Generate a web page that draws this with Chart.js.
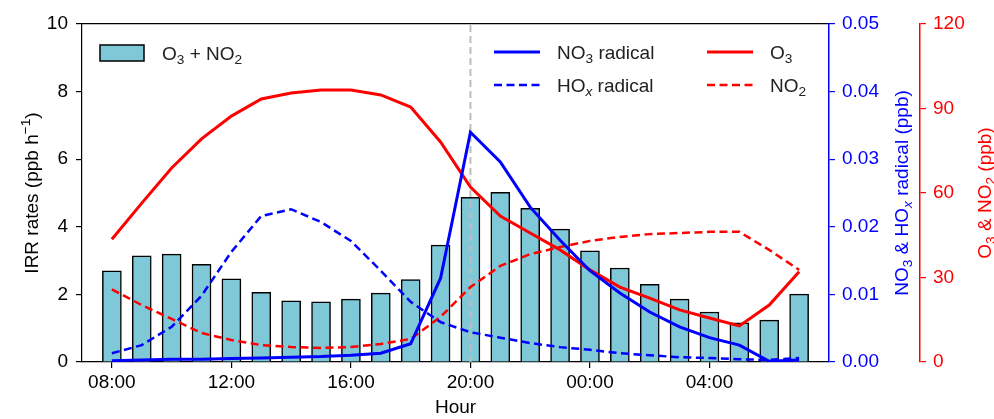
<!DOCTYPE html>
<html><head><meta charset="utf-8">
<script src="https://cdn.jsdelivr.net/npm/chart.js@4.4.0/dist/chart.umd.min.js"></script>
<style>html,body{margin:0;padding:0;background:#fff;}#wrap{width:994px;height:419px;position:relative;}</style>
</head><body><div id="wrap"><canvas id="c" width="994" height="419"></canvas></div>
<script>
// ---- data ----
const hours = ['08:00','09:00','10:00','11:00','12:00','13:00','14:00','15:00','16:00','17:00','18:00','19:00',
               '20:00','21:00','22:00','23:00','00:00','01:00','02:00','03:00','04:00','05:00','06:00','07:00'];
const tickHours = ['08:00','12:00','16:00','20:00','00:00','04:00'];
const markerHour = '20:00';
const irrRates = [2.70,3.14,3.19,2.89,2.46,2.06,1.81,1.78,1.86,2.04,2.44,3.46,
                  4.87,5.02,4.55,3.93,3.29,2.78,2.30,1.86,1.48,1.16,1.24,2.01];
const no3Radical = [0.0002,0.0003,0.0004,0.0004,0.0005,0.0006,0.0007,0.0008,0.0010,0.0013,0.0027,0.0124,
                    0.0340,0.0296,0.0229,0.0180,0.0135,0.0102,0.0074,0.0052,0.0036,0.0025,0.0001,0.0003];
const hoxRadical = [0.0013,0.0025,0.0052,0.0098,0.0163,0.0216,0.0226,0.0207,0.0179,0.0135,0.0089,0.0059,
                    0.0044,0.0036,0.0028,0.0022,0.0018,0.0013,0.0010,0.0007,0.0006,0.0004,0.0003,0.0006];
const o3 = [43.6,56.4,68.9,79.2,87.3,93.4,95.5,96.6,96.6,94.8,90.5,78.1,
            62.1,51.8,45.8,39.8,32.7,26.6,22.7,18.5,15.6,12.8,20.2,32.0];
const no2 = [25.8,20.2,15.3,10.3,7.8,6.0,5.3,5.0,5.3,6.4,8.2,16.0,
             26.6,34.1,38.3,40.8,43.0,44.4,45.4,45.8,46.2,46.2,39.8,32.7];
const labels = {bar:'O₃ + NO₂', no3:'NO₃ radical', hox:'HOₓ radical', o3:'O₃', no2:'NO₂'};
const axisTitles = {y:'IRR rates (ppb h⁻¹)', y2:'NO₃ & HOₓ radical (ppb)', y3:'O₃ & NO₂ (ppb)', x:'Hour'};

// ---- styles ----
const FAMILY = '"Liberation Sans", Arial, sans-serif';
const FS = 19;
const BLUE = '#0000FF', RED = '#FF0000', BARC = '#7EC8D8';
const pts = arr => arr.map((v,i)=>({x:i,y:v}));
const mIdx = hours.indexOf(markerHour);

// rich text (sub/superscripts)
const SUB = {'₀':'0','₁':'1','₂':'2','₃':'3','₄':'4','₅':'5','₆':'6','₇':'7','₈':'8','₉':'9','ₓ':'x'};
const SUP = {'⁻':'−','¹':'1','²':'2','³':'3'};
function parseRich(s){
  const out=[];
  for (const ch of s){
    let mode='n', c=ch;
    if (SUB[ch]!==undefined){mode='sub';c=SUB[ch];}
    else if (SUP[ch]!==undefined){mode='sup';c=SUP[ch];}
    const last=out[out.length-1];
    if (last && last.mode===mode) last.t+=c; else out.push({t:c,mode});
  }
  return out;
}
function runFont(r,size){
  const s = r.mode==='n'? size : size*0.72;
  const it = (r.t==='x' && r.mode==='sub') ? 'italic ' : '';
  return it + s + 'px ' + FAMILY;
}
function drawRich(ctx,s,x,y,size,color,align){
  const runs=parseRich(s);
  let w=0;
  runs.forEach(r=>{ctx.font=runFont(r,size); r.w=ctx.measureText(r.t).width; w+=r.w;});
  let cx = align==='center'? x-w/2 : x;
  const base = y + size*0.36;
  ctx.fillStyle=color; ctx.textBaseline='alphabetic'; ctx.textAlign='left';
  runs.forEach(r=>{
    ctx.font=runFont(r,size);
    const dy = r.mode==='sub'? size*0.22 : (r.mode==='sup'? -size*0.42 : 0);
    ctx.fillText(r.t,cx,base+dy);
    cx+=r.w;
  });
}
function drawRotated(ctx,s,x,y,size,color){
  ctx.save(); ctx.translate(x,y); ctx.rotate(-Math.PI/2);
  drawRich(ctx,s,0,0,size,color,'center'); ctx.restore();
}

const decor = {
  id:'decor',
  afterDraw(chart){
    const ctx=chart.ctx, a=chart.chartArea;
    const cy=(a.top+a.bottom)/2;
    ctx.save();
    // axis titles
    drawRotated(ctx,axisTitles.y,31,cy,FS,'#000');
    drawRotated(ctx,axisTitles.y2,chart.scales.y2.right-19,cy,FS,BLUE);
    drawRotated(ctx,axisTitles.y3,chart.scales.y3.right-10,cy,FS,RED);
    // bar legend
    const ds=chart.data.datasets;
    const bx=a.left+18, by=a.top+29;
    ctx.fillStyle=BARC; ctx.fillRect(bx,by-8,44,16);
    ctx.strokeStyle='#000'; ctx.lineWidth=1.5; ctx.strokeRect(bx,by-8,44,16);
    drawRich(ctx,ds[0].label,bx+62,by,FS,'#222','left');
    // line legend 2x2
    const cols=[a.left+412, a.left+625], rows=[a.top+28, a.top+61];
    const items=[[1,0,0],[3,1,0],[2,0,1],[4,1,1]];
    items.forEach(([di,c,r])=>{
      const d=ds[di]; const x=cols[c], y=rows[r];
      ctx.beginPath(); ctx.strokeStyle=d.borderColor; ctx.lineWidth=d.borderWidth;
      ctx.setLineDash(d.borderDash||[]); ctx.moveTo(x,y); ctx.lineTo(x+46,y); ctx.stroke();
      ctx.setLineDash([]);
      drawRich(ctx,d.label,x+63,y,FS,'#222','left');
    });
    ctx.restore();
  }
};

const tickFont = {family:FAMILY,size:FS};
new Chart(document.getElementById('c'),{
  type:'bar',
  data:{datasets:[
    {type:'bar',label:labels.bar,data:pts(irrRates),yAxisID:'y',xAxisID:'x',backgroundColor:BARC,borderColor:'#000',borderWidth:1.5,barThickness:19,order:10},
    {type:'line',label:labels.no3,data:pts(no3Radical),yAxisID:'y2',borderColor:BLUE,borderWidth:3,pointRadius:0,tension:0,order:1},
    {type:'line',label:labels.hox,data:pts(hoxRadical),yAxisID:'y2',borderColor:BLUE,borderWidth:2.5,borderDash:[8,4.5],pointRadius:0,tension:0,order:2},
    {type:'line',label:labels.o3,data:pts(o3),yAxisID:'y3',borderColor:RED,borderWidth:3,pointRadius:0,tension:0,order:1},
    {type:'line',label:labels.no2,data:pts(no2),yAxisID:'y3',borderColor:RED,borderWidth:2.5,borderDash:[8,4.5],pointRadius:0,tension:0,order:2},
    {type:'line',label:'marker',data:[{x:mIdx,y:0},{x:mIdx,y:10}],yAxisID:'y',borderColor:'#BDBDBD',borderWidth:2,borderDash:[7,4],pointRadius:0,order:5}
  ]},
  options:{
    responsive:false,animation:false,devicePixelRatio:1,
    layout:{padding:0},
    plugins:{legend:{display:false},tooltip:{enabled:false}},
    scales:{
      x:{type:'linear',position:'bottom',min:-1,max:24,offset:false,
        afterFit(s){s.height=57;},
        afterBuildTicks(s){s.ticks=tickHours.map(h=>({value:hours.indexOf(h)}));},
        ticks:{callback:v=>hours[v],color:'#000',font:tickFont,padding:3,maxRotation:0,autoSkip:false},
        grid:{offset:false,drawOnChartArea:false,drawTicks:true,tickLength:6,color:'#000',lineWidth:1.2},
        border:{display:true,color:'#000',width:1.2},
        title:{display:true,text:axisTitles.x,color:'#000',font:tickFont,padding:{top:0,bottom:0}}},
      xTop:{type:'linear',position:'top',min:-1,max:24,offset:false,
        afterFit(s){s.height=24;},
        ticks:{display:false},grid:{display:false,drawTicks:false,offset:false},
        border:{display:true,color:'#000',width:1.2}},
      y:{type:'linear',position:'left',min:0,max:10,
        afterFit(s){s.width=82;},
        ticks:{stepSize:2,color:'#000',font:tickFont,padding:8},
        grid:{drawOnChartArea:false,drawTicks:true,tickLength:6,color:'#000',lineWidth:1.2},
        border:{display:true,color:'#000',width:1.2}},
      y2:{type:'linear',position:'right',weight:0,min:0,max:0.05,
        afterFit(s){s.width=91;},
        ticks:{stepSize:0.01,color:BLUE,font:tickFont,padding:7,callback:v=>v.toFixed(2)},
        grid:{drawOnChartArea:false,drawTicks:true,tickLength:6,color:BLUE,lineWidth:1.2},
        border:{display:true,color:BLUE,width:1.5}},
      y3:{type:'linear',position:'right',weight:1,min:0,max:120,
        afterFit(s){s.width=74;},
        ticks:{stepSize:30,color:RED,font:tickFont,padding:7},
        grid:{drawOnChartArea:false,drawTicks:true,tickLength:6,color:RED,lineWidth:1.2},
        border:{display:true,color:RED,width:1.5}}
    }
  },
  plugins:[decor]
});
</script></body></html>
